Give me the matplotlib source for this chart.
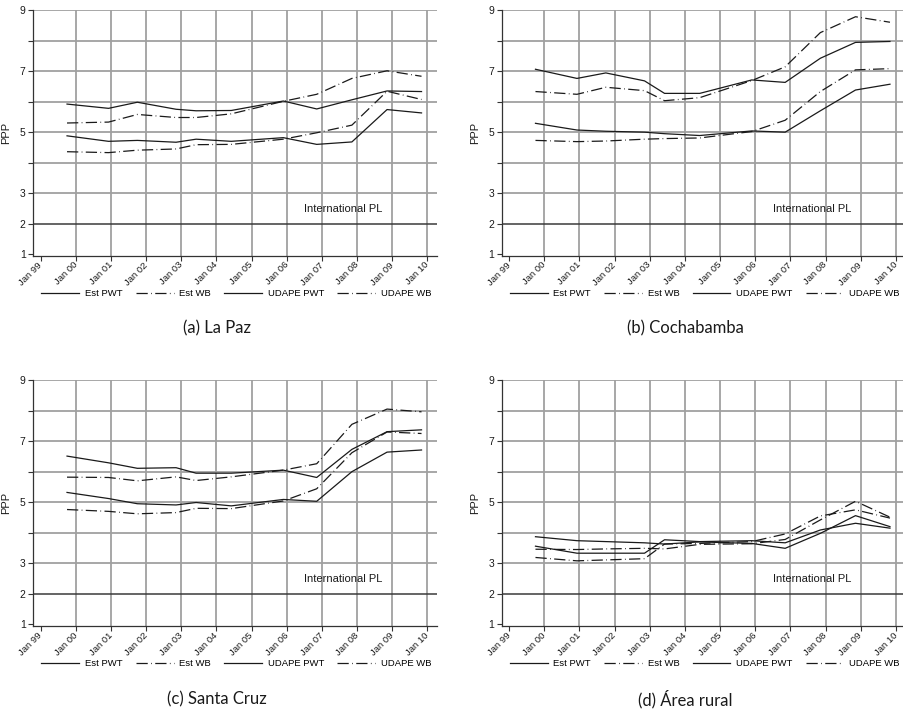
import matplotlib.pyplot as plt

# survey dates (decimal years) and PPP poverty lines per region
years = [1999.75, 2000.93, 2001.75, 2002.85, 2003.42, 2004.42, 2005.9, 2006.85, 2007.85, 2008.85, 2009.83]
tick_years = [1999, 2000, 2001, 2002, 2003, 2004, 2005, 2006, 2007, 2008, 2009, 2010]
tick_labels = ["Jan 99", "Jan 00", "Jan 01", "Jan 02", "Jan 03", "Jan 04",
               "Jan 05", "Jan 06", "Jan 07", "Jan 08", "Jan 09", "Jan 10"]
series_names = ["Est PWT", "Est WB", "UDAPE PWT", "UDAPE WB"]
intl_pl = 2

lapaz_est_pwt = [5.92, 5.78, 5.98, 5.75, 5.70, 5.71, 6.02, 5.76, 6.06, 6.35, 6.33]
lapaz_est_wb = [5.30, 5.33, 5.58, 5.48, 5.48, 5.60, 6.01, 6.24, 6.76, 7.01, 6.83]
lapaz_udape_pwt = [4.88, 4.70, 4.73, 4.67, 4.77, 4.70, 4.82, 4.60, 4.68, 5.74, 5.63]
lapaz_udape_wb = [4.36, 4.33, 4.41, 4.45, 4.59, 4.60, 4.77, 4.98, 5.23, 6.34, 6.07]

cbba_est_pwt = [7.06, 6.76, 6.94, 6.68, 6.27, 6.27, 6.71, 6.63, 7.42, 7.94, 7.97]
cbba_est_wb = [6.33, 6.24, 6.47, 6.36, 6.03, 6.13, 6.69, 7.14, 8.26, 8.78, 8.60]
cbba_udape_pwt = [5.29, 5.07, 5.03, 5.00, 4.95, 4.89, 5.04, 5.00, 5.70, 6.38, 6.57]
cbba_udape_wb = [4.73, 4.69, 4.71, 4.77, 4.79, 4.81, 5.02, 5.39, 6.33, 7.04, 7.08]

scz_est_pwt = [6.51, 6.29, 6.11, 6.13, 5.95, 5.95, 6.05, 5.81, 6.73, 7.31, 7.37]
scz_est_wb = [5.82, 5.81, 5.70, 5.83, 5.71, 5.83, 6.05, 6.26, 7.55, 8.05, 7.96]
scz_udape_pwt = [5.32, 5.12, 4.95, 4.91, 4.99, 4.88, 5.09, 5.03, 6.00, 6.64, 6.71]
scz_udape_wb = [4.76, 4.70, 4.62, 4.66, 4.80, 4.79, 5.04, 5.44, 6.62, 7.30, 7.25]

rural_est_pwt = [3.87, 3.74, 3.71, 3.67, 3.63, 3.70, 3.65, 3.49, 3.98, 4.56, 4.20]
rural_est_wb = [3.46, 3.45, 3.47, 3.49, 3.47, 3.62, 3.64, 3.78, 4.42, 5.03, 4.51]
rural_udape_pwt = [3.56, 3.33, 3.33, 3.33, 3.77, 3.71, 3.74, 3.67, 4.09, 4.31, 4.15]
rural_udape_wb = [3.19, 3.08, 3.11, 3.15, 3.63, 3.65, 3.71, 3.96, 4.55, 4.75, 4.48]

panels = [
    ("(a) La Paz", [lapaz_est_pwt, lapaz_est_wb, lapaz_udape_pwt, lapaz_udape_wb]),
    ("(b) Cochabamba", [cbba_est_pwt, cbba_est_wb, cbba_udape_pwt, cbba_udape_wb]),
    ("(c) Santa Cruz", [scz_est_pwt, scz_est_wb, scz_udape_pwt, scz_udape_wb]),
    ("(d) Área rural", [rural_est_pwt, rural_est_wb, rural_udape_pwt, rural_udape_wb]),
]

plt.rcParams['font.family'] = ['Liberation Sans', 'DejaVu Sans']

dashdot = (0, (9, 2.7, 0.6, 2.7))
styles = ['-', dashdot, '-', dashdot]
grid_col = '#a0a0a0'
ink = '#1a1a1a'

fig = plt.figure(figsize=(9.04, 7.26), dpi=100)
positions = [(0.0368, 0.6474), (0.555, 0.6474), (0.0368, 0.1377), (0.555, 0.1377)]
caption_pos = [(0.240, 0.548), (0.758, 0.548), (0.240, 0.037), (0.758, 0.037)]

for i, (title, series) in enumerate(panels):
    ax = fig.add_axes([positions[i][0], positions[i][1], 0.4466, 0.3388])

    # grid
    for yv in range(3, 10):
        ax.axhline(yv, color=grid_col, lw=1.3, zorder=0)
    for xv in tick_years[1:]:
        ax.axvline(xv, color=grid_col, lw=1.3, zorder=0)
    ax.axhline(intl_pl, color='#3a3a3a', lw=1.1, zorder=1)
    ax.text(2006.5, 2.5, "International PL", fontsize=8, va='center', color=ink)

    for vals, ls, name in zip(series, styles, series_names):
        ax.plot(years, vals, color=ink, lw=0.9, linestyle=ls, label=name, zorder=3)

    ax.set_xlim(1998.79, 2010.27)
    ax.set_ylim(0.945, 9)
    ax.spines['top'].set_visible(False)
    ax.spines['right'].set_visible(False)
    ax.spines['left'].set_color('#333333')
    ax.spines['bottom'].set_color('#333333')
    ax.spines['left'].set_linewidth(0.9)
    ax.spines['bottom'].set_linewidth(0.9)

    ax.set_yticks([1, 2, 3, 4, 5, 6, 7, 8, 9])
    ax.set_yticklabels(['1', '2', '3', '', '5', '', '7', '', '9'])
    ax.set_xticks(tick_years)
    ax.set_xticklabels(tick_labels, rotation=45, ha='right', va='center', rotation_mode='anchor')
    ax.tick_params(axis='both', direction='out', length=3.5, width=0.8, color='#333333',
                   labelsize=6.8, labelcolor=ink, pad=2)
    ax.tick_params(axis='y', labelsize=7.5)
    ax.set_ylabel("PPP", fontsize=8, color=ink, labelpad=6)

    ax.legend(loc='center', bbox_to_anchor=(0.503, -0.152), ncol=4, frameon=False,
              fontsize=6.8, handlelength=4.0, handletextpad=0.6, columnspacing=1.4)

    fig.text(caption_pos[i][0], caption_pos[i][1], title, ha='center', va='center',
             fontsize=12, family=['Lato', 'DejaVu Sans'], color=ink)

fig.savefig("out.png", dpi=100)
